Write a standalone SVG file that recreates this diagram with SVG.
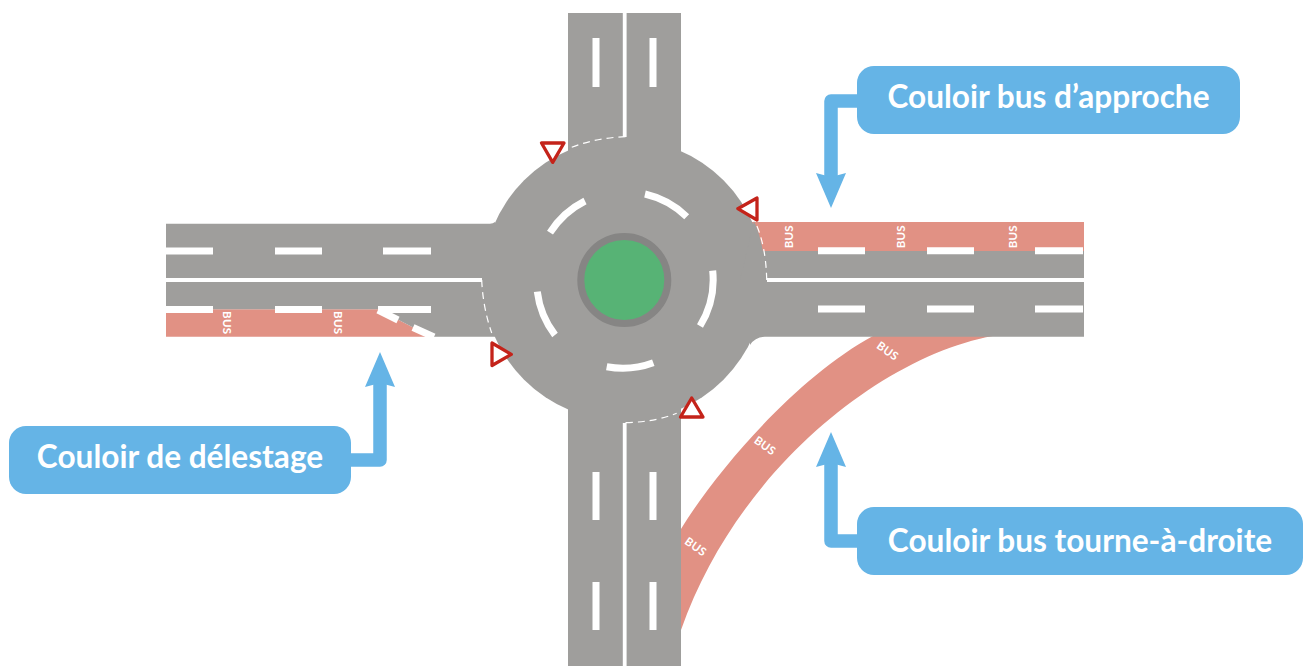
<svg xmlns="http://www.w3.org/2000/svg" width="1309" height="666" viewBox="0 0 1309 666">
<style>
.road{fill:#9f9e9c}
.bus{fill:#e19184}
.dash{stroke:#fff;stroke-width:7;fill:none}
.line{stroke:#fff;stroke-width:3.8;fill:none}
.give{stroke:#fff;stroke-width:1.2;stroke-dasharray:7 5;fill:none}
.yield{fill:#fff;stroke:#c4231a;stroke-width:3.300;stroke-linejoin:round}
.bt{font-family:Lato,"Open Sans",sans-serif;font-weight:700;font-size:11.500px;letter-spacing:.3px;fill:#fff;text-anchor:middle}
.box{fill:#65b4e6}
.arrow{fill:none;stroke:#65b4e6;stroke-width:13.500;stroke-linejoin:round}
.head{fill:#65b4e6}
.lbl{font-family:Lato,"Noto Sans",sans-serif;font-weight:700;font-size:31.600px;fill:#fff;text-anchor:middle}
</style>
<g id="bus-lanes">
<path class="bus" d="M166 309.300H378L431 336.700H166Z"/>
<path class="bus" d="M752 222H1084V252H752Z"/>
<path class="bus" d="M681 529C717 470 797 377 873 336H993C882 356 737 470 681 630Z"/>
</g>
<g id="roads">
<circle class="road" cx="623.800" cy="280" r="141"/>
<rect class="road" x="568" y="13" width="113" height="145"/>
<rect class="road" x="568" y="402" width="113" height="264"/>
<path class="road" d="M166 223.700H490Q493 223.700 495 222V336.700H431L378 309.300H166Z"/>
<path class="road" d="M1084 251H750V345Q755 337 765 336.700H1084Z"/>
<path class="road" d="M754 221Q763 240 767 280H740Z"/>
</g>
<g id="markings">
<path class="line" d="M624.700 13V137M624.700 666V423M166 280H482M1084 280H767"/>
<path class="dash" d="M596 38V87M653 38V87M596 472V520M653 472V520M596 582V630M653 582V630"/>
<path class="dash" d="M166 251H213M275 251H322M383 251H431M166 309.500H213M275 309.500H322M378 309.500H431M818 250.700H865M927 250.700H974M1035 250.700H1083M818 309H865M927 309H974M1035 309H1083"/>
<path class="give" d="M625.500 136.700Q590 138 561.700 151.700M625.500 422.700Q655 422 676.700 413.300M481.700 280Q483 308 491.700 333M766.700 280Q766 245 755 221.700"/>
<path class="dash" d="M550 232.700A88.300 88.300 0 0 1 585 201M645 194A88.300 88.300 0 0 1 686.700 216.700M712.700 270.700A88.300 88.300 0 0 1 700 326M653.300 362.700A88.300 88.300 0 0 1 606.700 366.700M555 335A88.300 88.300 0 0 1 537.300 291.700"/>
<path class="dash" d="M378 310L398 320M413 327.500L434 337"/>
</g>
<g id="island">
<circle cx="624.300" cy="280" r="43.500" fill="#57b375" stroke="#868584" stroke-width="7"/>
</g>
<g id="bus-labels">
<text class="bt" transform="translate(222.600 322.700) rotate(90)">BUS</text>
<text class="bt" transform="translate(334 322.700) rotate(90)">BUS</text>
<text class="bt" transform="translate(793 236.700) rotate(-90)">BUS</text>
<text class="bt" transform="translate(904.700 236.700) rotate(-90)">BUS</text>
<text class="bt" transform="translate(1016.700 236.700) rotate(-90)">BUS</text>
<text class="bt" transform="translate(693.400 550) rotate(35)">BUS</text>
<text class="bt" transform="translate(762.700 449) rotate(35)">BUS</text>
<text class="bt" transform="translate(885.400 354.300) rotate(35)">BUS</text>
</g>
<g id="yield-signs">
<path class="yield" d="M541.500 143H564L552.700 162.300Z"/>
<path class="yield" d="M757 198V220L737.800 208.700Z"/>
<path class="yield" d="M492 343V365.500L511.300 354.300Z"/>
<path class="yield" d="M691.700 398L680.500 417H703Z"/>
</g>
<g id="connectors">
<path class="arrow" d="M857 101H831V180"/>
<path class="head" d="M831 208L816 173L831 177L846 173Z"/>
<path class="arrow" d="M857 541H831V460"/>
<path class="head" d="M831 432L816 467L831 463L846 467Z"/>
<path class="arrow" d="M351 460H380V380"/>
<path class="head" d="M380 352L365 387L380 383L395 387Z"/>
</g>
<g id="callout-approche">
<rect class="box" x="857" y="66" width="383" height="68" rx="17"/>
<text class="lbl" x="1048.500" y="108">Couloir bus d’approche</text>
</g>
<g id="callout-droite">
<rect class="box" x="857" y="507" width="446" height="68" rx="17"/>
<text class="lbl" x="1080" y="552">Couloir bus tourne-à-droite</text>
</g>
<g id="callout-delestage">
<rect class="box" x="9" y="426" width="342" height="68" rx="17"/>
<text class="lbl" x="180" y="468">Couloir de délestage</text>
</g>
</svg>
